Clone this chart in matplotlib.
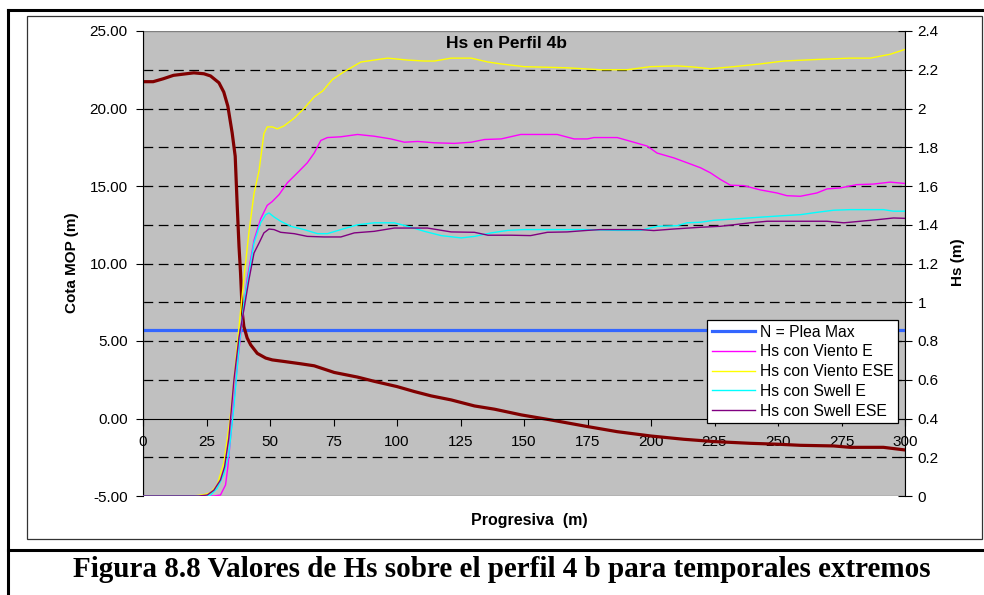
import matplotlib
matplotlib.use("Agg")
import matplotlib.pyplot as plt
from matplotlib.lines import Line2D
from matplotlib.patches import Rectangle
from matplotlib.ticker import MultipleLocator, FuncFormatter

plt.rcParams['font.family'] = ['Liberation Sans', 'DejaVu Sans']
plt.rcParams['lines.scale_dashes'] = False

# perfil del fondo (cota MOP, eje izquierdo)
x_cota = [0, 4, 8, 12, 16, 20, 24, 26.6, 29.9, 31.8, 33.4, 35.1, 36.3, 37.1, 37.8, 38.4,
          39.1, 39.7, 41, 42.4, 45, 48.3, 50.9, 55.5, 62.1, 67.4, 75.3, 84.5, 91, 100,
          106.8, 113.4, 121.3, 130.5, 138.4, 149, 160.5, 175, 186.7, 200, 212.9, 225,
          239, 250, 258.8, 271.9, 278.4, 291.5, 300]
cota = [21.73, 21.73, 21.92, 22.14, 22.22, 22.3, 22.24, 22.1, 21.66, 21.06, 20.15, 18.43,
        16.92, 13.7, 11.1, 9.4, 6.8, 5.94, 5.2, 4.75, 4.2, 3.9, 3.78, 3.68, 3.53, 3.4,
        2.97, 2.67, 2.4, 2.06, 1.74, 1.46, 1.2, 0.81, 0.6, 0.23, -0.09, -0.52, -0.85,
        -1.13, -1.34, -1.49, -1.6, -1.66, -1.73, -1.77, -1.86, -1.86, -2.03]

# nivel de pleamar maxima
x_plea = [0, 300]
plea_max = [5.72, 5.72]

# Hs (eje derecho)
x_viento_e = [0, 28, 30.5, 32.5, 33.4, 35.1, 37.1, 39.1, 41, 43.7, 46.3, 48.9, 50.9, 53.6,
              56.8, 60.8, 64.7, 67.4, 70, 72.6, 77.9, 84.5, 91, 97.6, 102.9, 108.2, 114.7,
              122.6, 129.2, 134.5, 141, 148.7, 163.1, 169.7, 175, 177.5, 186.7, 193.2,
              198.5, 202.4, 209, 214.2, 219.5, 223.4, 227.3, 231.3, 236.5, 243, 249.6,
              253.5, 258.8, 265.3, 269.3, 274.5, 281, 287.6, 294.2, 300]
hs_viento_e = [0, 0, 0.005, 0.057, 0.15, 0.39, 0.67, 0.91, 1.12, 1.32, 1.43, 1.5, 1.52,
               1.556, 1.616, 1.668, 1.72, 1.77, 1.835, 1.85, 1.854, 1.866, 1.857, 1.843,
               1.826, 1.83, 1.823, 1.82, 1.826, 1.84, 1.843, 1.866, 1.866, 1.843, 1.843,
               1.85, 1.85, 1.826, 1.806, 1.77, 1.745, 1.72, 1.694, 1.668, 1.634, 1.604,
               1.602, 1.58, 1.564, 1.55, 1.547, 1.564, 1.585, 1.59, 1.607, 1.61, 1.62, 1.613]

x_viento_ese = [0, 20, 24, 26.6, 29.2, 31.8, 34.2, 35.8, 37.8, 39.7, 41.7, 43.7, 45.7, 47.6,
                48.9, 50.9, 52.9, 55.5, 59.5, 63.4, 67.4, 70.7, 74.6, 79.2, 85.8, 91, 96.3,
                104.2, 110.8, 114.7, 121.3, 129.2, 135.8, 141, 150, 167, 180, 190.6, 199.8,
                210.3, 216.8, 223.4, 232.6, 243, 252.2, 265.3, 278.4, 286.3, 294.2, 300]
hs_viento_ese = [0, 0, 0.007, 0.017, 0.057, 0.17, 0.39, 0.6, 0.875, 1.12, 1.36, 1.56, 1.68,
                 1.87, 1.905, 1.905, 1.895, 1.91, 1.95, 2.0, 2.06, 2.09, 2.15, 2.19, 2.24,
                 2.25, 2.26, 2.25, 2.245, 2.245, 2.26, 2.26, 2.24, 2.23, 2.216, 2.21, 2.2,
                 2.2, 2.216, 2.22, 2.214, 2.205, 2.216, 2.23, 2.245, 2.253, 2.26, 2.26,
                 2.28, 2.305]

x_swell_e = [0, 24, 26.6, 29.2, 31.8, 33.8, 35.8, 37.8, 39.7, 41.7, 43.7, 46.3, 48.3, 49.6,
             51.6, 54.2, 58.2, 63.4, 68.7, 72.6, 77.9, 84.5, 91, 98.9, 104.2, 110.8, 117.4,
             125.3, 130.5, 137.1, 143.7, 150, 160.5, 173.6, 186.7, 195.9, 202.4, 210.3,
             214.2, 219.5, 224.7, 233, 243, 252.2, 258.8, 265.3, 271.9, 278.4, 291.5,
             295.5, 300]
hs_swell_e = [0, 0, 0.005, 0.04, 0.11, 0.22, 0.46, 0.77, 0.996, 1.15, 1.306, 1.41, 1.452,
              1.461, 1.44, 1.418, 1.392, 1.375, 1.354, 1.354, 1.375, 1.40, 1.41, 1.41,
              1.392, 1.366, 1.344, 1.332, 1.34, 1.358, 1.371, 1.375, 1.375, 1.375, 1.371,
              1.371, 1.392, 1.395, 1.41, 1.413, 1.423, 1.43, 1.439, 1.447, 1.452, 1.464,
              1.475, 1.478, 1.478, 1.47, 1.47]

x_swell_ese = [0, 22, 25.3, 27.9, 30.5, 32.1, 33.8, 35.8, 37.8, 39.7, 41.7, 43.7, 45.7, 47.6,
               49.6, 51.6, 54.2, 59.5, 64.7, 71.3, 77.9, 83.2, 91, 98.9, 104.2, 112, 121.3,
               130.5, 135.8, 145, 152.6, 159.2, 167, 175, 180.1, 195.9, 201.1, 208.9,
               219.5, 227.3, 239.1, 245.7, 258.8, 269.3, 275.9, 282.4, 289, 295.5, 300]
hs_swell_ese = [0, 0, 0.005, 0.03, 0.083, 0.15, 0.3, 0.6, 0.82, 0.96, 1.116, 1.254, 1.306,
                1.358, 1.378, 1.375, 1.361, 1.354, 1.34, 1.337, 1.337, 1.358, 1.366, 1.383,
                1.383, 1.383, 1.363, 1.361, 1.346, 1.346, 1.344, 1.361, 1.363, 1.371, 1.375,
                1.375, 1.37, 1.378, 1.387, 1.392, 1.41, 1.418, 1.418, 1.418, 1.41, 1.418,
                1.426, 1.435, 1.433]

W, H = 984, 595


def fx(x):
    return x / W


def fy(y):
    return 1 - y / H


fig = plt.figure(figsize=(W / 100, H / 100), dpi=100)

# marcos exteriores
for xs, ys, lw, c in [([8, 8], [10, 595], 2.2, 'black'),
                      ([8, 984], [10, 10], 2.2, 'black'),
                      ([8, 984], [550, 550], 2.2, 'black')]:
    fig.add_artist(Line2D([fx(v) for v in xs], [fy(v) for v in ys], lw=lw, color=c,
                          transform=fig.transFigure))
fig.add_artist(Rectangle((fx(27), fy(539)), (982 - 27) / W, (539 - 16) / H, fill=False,
                         edgecolor='#333333', lw=0.9, transform=fig.transFigure))

ax = fig.add_axes([fx(143), fy(496), (905 - 143) / W, (496 - 31) / H])
ax2 = ax.twinx()

ax.set_facecolor('#C0C0C0')
ax.set_xlim(0, 300)
ax.set_ylim(-5, 25)
ax2.set_ylim(0, 2.4)

# lineas de grilla cada 2.5
for g in [-2.5, 2.5, 5, 7.5, 10, 12.5, 15, 17.5, 20, 22.5]:
    ax.axhline(g, color='black', lw=0.9, linestyle=(0, (7, 4)), zorder=0.5)

ax.add_patch(Rectangle((0, 0), 1, 1, transform=ax.transAxes, fill=False,
                       edgecolor='#808080', lw=1, zorder=0.6))

ax.plot(x_plea, plea_max, color='#3366FF', lw=2.3, label='N = Plea Max')
ax.plot(x_cota, cota, color='#800000', lw=2.3)

ax2.plot(x_viento_e, hs_viento_e, color='#FF00FF', lw=1.0, label='Hs con Viento E')
ax2.plot(x_viento_ese, hs_viento_ese, color='#FFFF00', lw=1.0, label='Hs con Viento ESE')
ax2.plot(x_swell_e, hs_swell_e, color='#00FFFF', lw=1.0, label='Hs con Swell E')
ax2.plot(x_swell_ese, hs_swell_ese, color='#800080', lw=1.0, label='Hs con Swell ESE')

# ejes
for s in ['top', 'right']:
    ax.spines[s].set_visible(False)
ax.spines['left'].set_color('black')
ax.spines['bottom'].set_position(('data', 0))
ax.spines['bottom'].set_color('black')
ax.xaxis.set_major_locator(MultipleLocator(25))
ax.yaxis.set_major_locator(MultipleLocator(5))
ax.yaxis.set_major_formatter(FuncFormatter(lambda v, p: f'{v:.2f}'))
ax.tick_params(axis='x', direction='out', length=5, pad=7, labelsize=11)
ax.tick_params(axis='y', direction='out', length=5, pad=6, labelsize=11)

for s in ['top', 'left', 'bottom']:
    ax2.spines[s].set_visible(False)
ax2.spines['right'].set_color('black')
ax2.yaxis.set_major_locator(MultipleLocator(0.2))
ax2.yaxis.set_major_formatter(FuncFormatter(lambda v, p: f'{v:.1f}'.rstrip('0').rstrip('.') if v else '0'))
ax2.tick_params(axis='y', direction='inout', length=10, pad=4, labelsize=11)

fig.text(fx(506), fy(43), 'Hs en Perfil 4b', ha='center', va='center',
         fontsize=12.5, fontweight='bold')
fig.text(fx(72), fy(263), 'Cota MOP (m)', ha='center', va='center', rotation=90,
         fontsize=11, fontweight='bold')
fig.text(fx(958), fy(262), 'Hs (m)', ha='center', va='center', rotation=90,
         fontsize=11, fontweight='bold')
fig.text(fx(529), fy(521), 'Progresiva  (m)', ha='center', va='center',
         fontsize=11.5, fontweight='bold')

handles = ax.get_legend_handles_labels()[0][:1] + ax2.get_legend_handles_labels()[0]
labels = ax.get_legend_handles_labels()[1][:1] + ax2.get_legend_handles_labels()[1]
leg = ax2.legend(handles, labels, loc='upper left', bbox_to_anchor=(fx(707), fy(320)),
                 bbox_transform=fig.transFigure, borderaxespad=0, fancybox=False,
                 framealpha=1, edgecolor='black', fontsize=11.3, handlelength=2.75,
                 handletextpad=0.3, labelspacing=0.3, borderpad=0.3)
leg.get_frame().set_linewidth(0.9)

fig.text(fx(502), fy(577), 'Figura 8.8 Valores de Hs sobre el perfil 4 b para temporales extremos',
         ha='center', va='baseline', fontsize=21, fontweight='bold',
         family=['Liberation Serif', 'DejaVu Serif'])

fig.savefig('out.png', dpi=100)
